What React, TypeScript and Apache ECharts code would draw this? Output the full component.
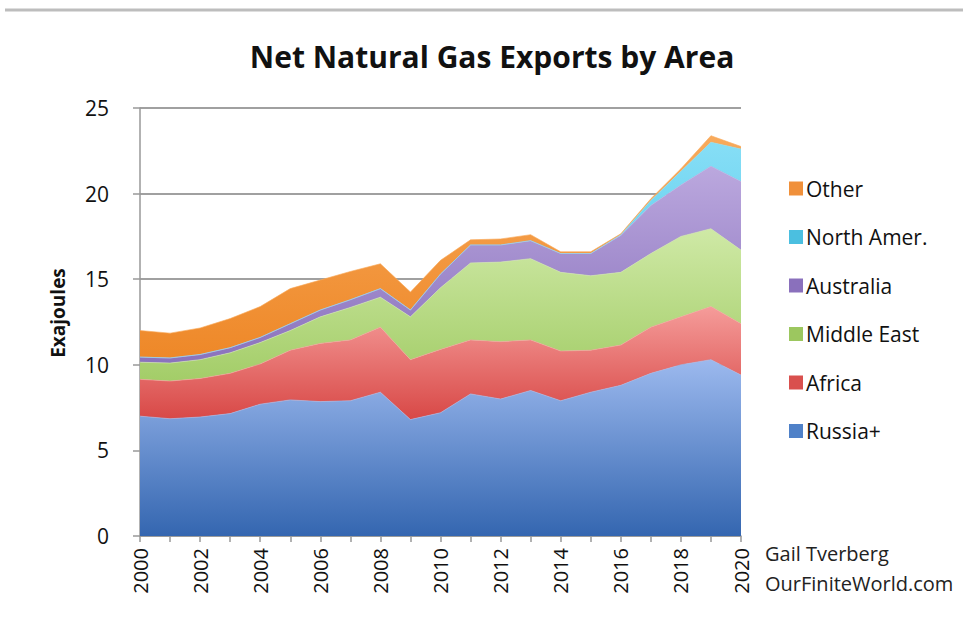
import React, { useEffect, useRef } from "react";
import * as echarts from "echarts";

const years = ["2000","2001","2002","2003","2004","2005","2006","2007","2008","2009","2010","2011","2012","2013","2014","2015","2016","2017","2018","2019","2020"];
const russia = [7.0, 6.85, 6.95, 7.15, 7.7, 7.95, 7.85, 7.9, 8.4, 6.8, 7.2, 8.3, 8.0, 8.5, 7.9, 8.4, 8.8, 9.5, 10.0, 10.3, 9.4];
const africa = [2.15, 2.2, 2.25, 2.35, 2.35, 2.9, 3.4, 3.55, 3.8, 3.5, 3.7, 3.15, 3.35, 2.95, 2.9, 2.45, 2.35, 2.7, 2.8, 3.1, 3.0];
const middleEast = [1.0, 1.05, 1.1, 1.2, 1.25, 1.15, 1.55, 1.9, 1.75, 2.5, 3.6, 4.5, 4.65, 4.75, 4.6, 4.35, 4.25, 4.3, 4.7, 4.55, 4.3];
const australia = [0.3, 0.3, 0.3, 0.3, 0.3, 0.4, 0.4, 0.45, 0.5, 0.4, 0.8, 1.05, 1.0, 1.05, 1.1, 1.3, 2.15, 2.8, 3.0, 3.65, 4.0];
const northAmer = [0, 0, 0, 0, 0, 0, 0, 0, 0, 0, 0, 0, 0, 0, 0, 0, 0.05, 0.3, 0.8, 1.4, 1.9];
const other = [1.55, 1.45, 1.55, 1.7, 1.8, 2.05, 1.75, 1.65, 1.45, 1.05, 0.8, 0.3, 0.35, 0.35, 0.1, 0.1, 0.05, 0.1, 0.15, 0.38, 0.15];
const yTicks = { min: 0, max: 25, interval: 5 };

const FONT = "'Open Sans', Lato, sans-serif";

function grad(top: string, bottom: string) {
  return new echarts.graphic.LinearGradient(0, 0, 0, 1, [
    { offset: 0, color: top },
    { offset: 1, color: bottom },
  ]);
}

export default function App() {
  const ref = useRef<HTMLDivElement>(null);
  useEffect(() => {
    document.body.style.margin = "0";
    if (!ref.current) return;
    const chart = echarts.init(ref.current, null, { renderer: "svg" });
    const mk = (name: string, data: number[], top: string, bottom: string, legendColor: string) => ({
      name,
      type: "line",
      stack: "total",
      data,
      showSymbol: false,
      symbol: "none",
      lineStyle: { width: 0.8, color: top, opacity: 0.8 },
      itemStyle: { color: legendColor },
      areaStyle: { color: grad(top, bottom), opacity: 1 },
    });
    chart.setOption({
      animation: false,
      backgroundColor: "#ffffff",
      title: {
        text: "Net Natural Gas Exports by Area",
        left: 487,
        textAlign: "center",
        top: 36,
        textStyle: { fontFamily: FONT, fontWeight: "bold", fontSize: 30, color: "#111" },
      },
      grid: { left: 140, right: 222, top: 108, bottom: 82 },
      legend: {
        orient: "vertical",
        left: 784,
        top: 173,
        itemWidth: 14,
        itemHeight: 14,
        itemGap: 27.5,
        icon: "rect",
        data: ["Other", "North Amer.", "Australia", "Middle East", "Africa", "Russia+"],
        textStyle: { fontFamily: FONT, fontSize: 21, color: "#111", padding: [0, 0, 0, -2] },
      },
      xAxis: {
        type: "category",
        data: years,
        boundaryGap: false,
        axisLine: { show: true, lineStyle: { color: "#999", width: 1.5 } },
        axisTick: { show: true, interval: 0, length: 6, lineStyle: { color: "#999", width: 1.5 } },
        axisLabel: {
          interval: 1,
          rotate: 90,
          margin: 12,
          fontFamily: FONT,
          fontSize: 20,
          color: "#111",
        },
      },
      yAxis: {
        type: "value",
        min: yTicks.min,
        max: yTicks.max,
        interval: yTicks.interval,
        axisLine: { show: true, lineStyle: { color: "#999", width: 1.5 } },
        axisTick: { show: true, length: 7, lineStyle: { color: "#999", width: 1.5 } },
        axisLabel: { margin: 31, fontFamily: FONT, fontSize: 21, color: "#111" },
        splitLine: { show: true, lineStyle: { color: "#a0a0a0", width: 2 } },
      },
      graphic: [
        {
          type: "line",
          shape: { x1: 5, y1: 10, x2: 963, y2: 10 },
          style: { stroke: "#bdbdbd", lineWidth: 3 },
        },
        {
          type: "text",
          x: 58,
          y: 313,
          rotation: Math.PI / 2,
          style: {
            text: "Exajoules",
            fontFamily: FONT,
            fontWeight: "bold",
            fontSize: 19,
            fill: "#111",
            textAlign: "center",
            textVerticalAlign: "middle",
          },
        },
        {
          type: "text",
          x: 765,
          y: 553,
          style: {
            text: "Gail Tverberg",
            fontFamily: FONT,
            fontSize: 20,
            fill: "#222",
            textAlign: "left",
            textVerticalAlign: "middle",
          },
        },
        {
          type: "text",
          x: 765,
          y: 583,
          style: {
            text: "OurFiniteWorld.com",
            fontFamily: FONT,
            fontSize: 20,
            fill: "#222",
            textAlign: "left",
            textVerticalAlign: "middle",
          },
        },
      ],
      series: [
        mk("Russia+", russia, "#9cb9ee", "#3466b0", "#4f81c8"),
        mk("Africa", africa, "#f59c9a", "#d84846", "#d9504e"),
        mk("Middle East", middleEast, "#cfe9a6", "#a3cd68", "#9cc75f"),
        mk("Australia", australia, "#bba8de", "#8a72bd", "#8a70bc"),
        mk("North Amer.", northAmer, "#86def6", "#4ec5e8", "#4bbfe0"),
        mk("Other", other, "#f8aa5c", "#ee8828", "#f0903a"),
      ],
    });
    return () => chart.dispose();
  }, []);
  return <div ref={ref} style={{ width: 963, height: 618 }} />;
}
